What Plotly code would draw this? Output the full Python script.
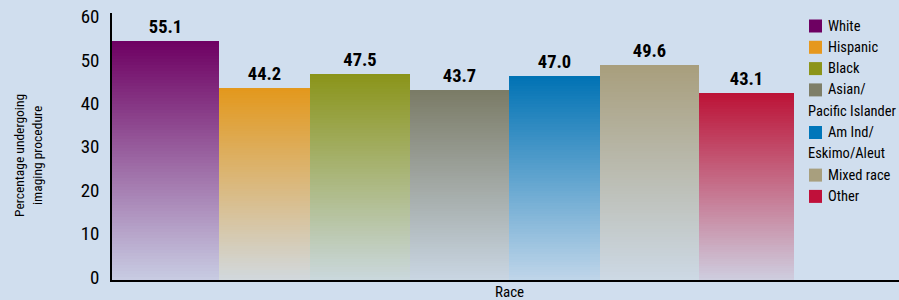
import plotly.graph_objects as go

# ---------------- data ----------------
categories = ["White", "Hispanic", "Black", "Asian/Pacific Islander",
              "Am Ind/Eskimo/Aleut", "Mixed race", "Other"]
values = [55.1, 44.2, 47.5, 43.7, 47.0, 49.6, 43.1]
legend_lines = [["White"], ["Hispanic"], ["Black"], ["Asian/", "Pacific Islander"],
                ["Am Ind/", "Eskimo/Aleut"], ["Mixed race"], ["Other"]]
y_ticks = [0, 10, 20, 30, 40, 50, 60]
y_title = "Percentage undergoing<br>imaging procedure"
x_title = "Race"

# ---------------- styles ----------------
top_colors = ["#6E0062", "#E3981C", "#8A9419", "#7B7B66", "#0072B4", "#A89E7C", "#BC1236"]
legend_colors = ["#6E0062", "#E6981E", "#8C9419", "#7E7E68", "#0076BA", "#A89F7E", "#C0103A"]
BG = "#D0DEEE"
FONT = "Roboto Condensed, sans-serif"
N_SEG = 80
FADE = 0.92

W, H = 899, 300
ML, MR, MT, MB = 112, 0, 13, 20
X_RANGE = [-0.5, 7.58]
# slightly uneven bar edges of the original artwork (pixel columns)
bar_edges_px = [112, 219, 310, 410, 509, 600, 699, 794]

plot_w = W - ML - MR
plot_h = H - MT - MB
unit_px = plot_w / (X_RANGE[1] - X_RANGE[0])
edges_u = [(e - ML) / unit_px + X_RANGE[0] for e in bar_edges_px]
bar_offsets = [edges_u[i] - i for i in range(len(categories))]
bar_widths = [edges_u[i + 1] - edges_u[i] for i in range(len(categories))]


def hex_to_rgb(h):
    h = h.lstrip("#")
    return [int(h[i:i + 2], 16) for i in (0, 2, 4)]


def mix(c1, c2, a):
    r1, r2 = hex_to_rgb(c1), hex_to_rgb(c2)
    return "rgb(%d,%d,%d)" % tuple(round(x * (1 - a) + y * a) for x, y in zip(r1, r2))


fig = go.Figure()

# full bars (top colour) carrying the value labels
fig.add_trace(go.Bar(
    x=categories, y=values, marker=dict(color=top_colors, line=dict(width=0)),
    texttemplate="%{y:.1f}", textposition="outside", cliponaxis=False,
    textfont=dict(family=FONT, size=18.5, color="black", weight="bold"),
    width=bar_widths, offset=bar_offsets, showlegend=False, hoverinfo="skip",
))

# vertical gradient: stacked slices of each bar, fading toward the background
for i in range(N_SEG):
    f_mid = (i + 0.5) / N_SEG
    bases = [v * (1 - (i + 1) / N_SEG) for v in values]
    heights = [v / N_SEG for v in values]
    cols = [mix(c, BG, FADE * f_mid) for c in top_colors]
    fig.add_trace(go.Bar(
        x=categories, y=heights, base=bases, width=bar_widths, offset=bar_offsets,
        marker=dict(color=cols, line=dict(width=0)),
        showlegend=False, hoverinfo="skip",
    ))

# ---------------- manual legend + titles ----------------


def px(xp):
    return (xp - ML) / plot_w


def py(yp):
    return (H - MB - yp) / plot_h


row_y = 26
shapes, annots = [], []
for lines, col in zip(legend_lines, legend_colors):
    shapes.append(dict(type="rect", xref="paper", yref="paper",
                       x0=px(809), x1=px(822), y0=py(row_y + 6.5), y1=py(row_y - 6.5),
                       fillcolor=col, line=dict(width=0)))
    for j, t in enumerate(lines):
        annots.append(dict(xref="paper", yref="paper", x=px(826 if j == 0 else 806),
                           y=py(row_y), text=t, showarrow=False, xanchor="left",
                           yanchor="middle", font=dict(family=FONT, size=14.5, color="black")))
        row_y += 21.3

annots.append(dict(xref="paper", yref="paper", x=px(28), y=py(156), text=y_title,
                   textangle=-90, showarrow=False, xanchor="center", yanchor="middle",
                   font=dict(family=FONT, size=13.5, color="black")))
annots.append(dict(xref="paper", yref="paper", x=px(510), y=py(281), text=x_title,
                   showarrow=False, xanchor="center", yanchor="top",
                   font=dict(family=FONT, size=15, color="black")))

fig.update_layout(
    width=W, height=H, margin=dict(l=ML, r=MR, t=MT, b=MB, autoexpand=False),
    paper_bgcolor=BG, plot_bgcolor=BG,
    barmode="overlay", bargap=0,
    font=dict(family=FONT, color="black"),
    shapes=shapes, annotations=annots,
    xaxis=dict(type="category", categoryorder="array", categoryarray=categories,
               range=X_RANGE, showticklabels=False, ticks="", automargin=False,
               showline=True, linecolor="black", linewidth=1.5, showgrid=False,
               zeroline=False, fixedrange=True),
    yaxis=dict(range=[0, 61.5], tickvals=y_ticks, ticks="", automargin=False,
               showline=True, linecolor="black", linewidth=1.5, showgrid=False,
               zeroline=False, tickfont=dict(family=FONT, size=19),
               ticklabelstandoff=7, ticklabelshift=-3, fixedrange=True),
)

fig.write_html("out.html", config={"displayModeBar": False},
               post_script="document.body.style.margin='0';document.body.style.background='%s';" % BG)
